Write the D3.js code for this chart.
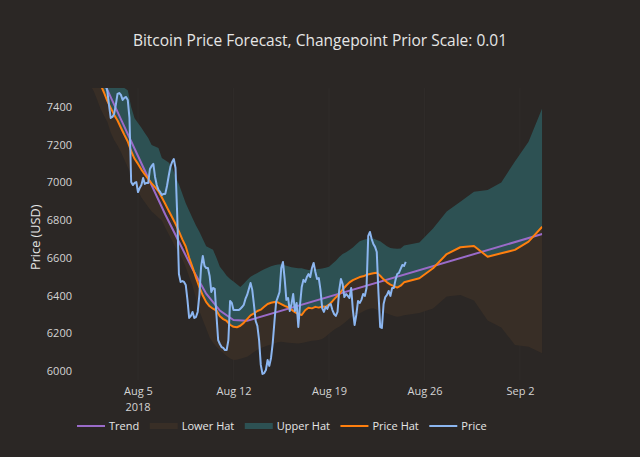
<!DOCTYPE html>
<html><head><meta charset="utf-8">
<script src="https://cdn.jsdelivr.net/npm/d3@7"></script>
<style>html,body{margin:0;padding:0;background:#2b2725;} svg{display:block;}</style>
</head><body>
<svg id="c" width="640" height="457"></svg>
<script>
// ---------------- DATA ----------------
const chartTitle = "Bitcoin Price Forecast, Changepoint Prior Scale: 0.01";
const yAxisTitle = "Price (USD)";
const yTicks = [6000, 6200, 6400, 6600, 6800, 7000, 7200, 7400];
const xTickDates = ["2018-08-05T00:00:00Z", "2018-08-12T00:00:00Z", "2018-08-19T00:00:00Z", "2018-08-26T00:00:00Z", "2018-09-02T00:00:00Z"];
const xTickLabels = ["Aug 5", "Aug 12", "Aug 19", "Aug 26", "Sep 2"];
const xTickYear = "2018";
const legendNames = ["Trend", "Lower Hat", "Upper Hat", "Price Hat", "Price"];
const xDomain = ["2018-07-31T18:00:00Z", "2018-09-03T15:00:00Z"];
const yDomain = [5950, 7500];

// observed price, sampled every 3 hours
const priceStart = "2018-07-31T18:00:00Z";
const priceStepHours = 3;
const price = [7700,7690,7680,7665,7650,7630,7620,7610,7600,7585,7570,7590,7580,7560,7540,7520,
7485,7411,7342,7347,7363,7411,7469,7474,7464,7437,7448,7453,7437,7342,7002,6986,6997,7002,
6949,6970,6986,7023,6992,6997,6997,7071,7087,7098,7029,6986,6960,6949,6933,6939,6939,6981,
7034,7082,7108,7124,7076,6827,6514,6472,6477,6472,6456,6377,6281,6292,6313,6281,6286,6313,
6403,6552,6610,6557,6546,6546,6504,6419,6440,6435,6297,6164,6143,6127,6122,6111,6111,6164,
6371,6361,6323,6323,6323,6323,6329,6339,6350,6382,6403,6435,6467,6430,6350,6265,6239,6164,
6032,5984,5989,6005,6058,6027,6069,6148,6260,6366,6392,6419,6546,6578,6488,6377,6387,6318,
6355,6408,6318,6361,6233,6350,6445,6483,6472,6498,6514,6498,6546,6573,6525,6488,6493,6430,
6334,6313,6339,6329,6350,6355,6323,6302,6292,6313,6430,6488,6461,6392,6408,6398,6387,6440,
6323,6244,6297,6371,6361,6377,6408,6398,6440,6716,6737,6700,6673,6658,6631,6414,6233,6228,
6355,6392,6403,6424,6398,6440,6440,6483,6514,6520,6541,6562,6557,6578];

// fitted history, sampled every 6 hours
const histStart = "2018-07-31T18:00:00Z";
const histStepHours = 6;
const priceHatHist = [7640,7625,7610,7595,7580,7560,7520,7478,7432,7395,7358,7328,7290,7252,7217,7165,
7125,7098,7068,7042,7018,6995,6975,6953,6920,6885,6850,6815,6780,6740,6698,6660,6600,6550,
6495,6445,6400,6365,6343,6330,6320,6290,6275,6265,6245,6234,6232,6240,6255,6275,6295,6305,
6318,6325,6340,6355,6362,6366,6364,6355,6345,6338,6325,6312,6302,6297,6322,6335,6332,6340,
6336,6342,6340,6352,6370,6390,6408,6432,6452,6470,6482,6490,6498,6502,6510,6514,6518,6521,
6505,6486,6470,6458,6450,6442,6452,6470];
const upperHatHist = [7900,7880,7860,7840,7820,7800,7760,7720,7680,7640,7600,7560,7530,7500,7488,7400,
7340,7315,7290,7262,7235,7198,7190,7183,7130,7118,7105,7080,7030,6990,6940,6890,6850,6810,
6772,6738,6700,6662,6652,6643,6600,6553,6530,6505,6488,6474,6460,6445,6462,6482,6500,6510,
6520,6530,6540,6548,6555,6560,6565,6566,6560,6555,6550,6548,6545,6545,6540,6536,6537,6540,
6541,6543,6548,6552,6568,6585,6605,6620,6630,6641,6655,6672,6688,6695,6700,6705,6702,6695,
6688,6675,6662,6652,6650,6648,6650,6665];
const lowerHatHist = [7600,7570,7540,7515,7485,7440,7390,7355,7322,7265,7225,7195,7161,7120,7080,7042,
6995,6955,6920,6895,6870,6845,6830,6812,6798,6760,6725,6690,6655,6625,6592,6550,6500,6450,
6385,6318,6270,6225,6178,6150,6128,6111,6095,6080,6066,6058,6060,6065,6070,6075,6088,6100,
6112,6120,6128,6135,6140,6146,6152,6155,6152,6150,6148,6147,6146,6148,6152,6156,6160,6162,
6164,6170,6182,6198,6212,6225,6235,6248,6262,6278,6290,6300,6306,6315,6325,6330,6332,6325,
6318,6310,6305,6298,6292,6288,6290,6296];

// daily forecast
const forecastDates = ["2018-08-25T15:00:00Z","2018-08-26T15:00:00Z","2018-08-27T15:00:00Z","2018-08-28T15:00:00Z",
"2018-08-29T15:00:00Z","2018-08-30T15:00:00Z","2018-08-31T15:00:00Z","2018-09-01T15:00:00Z","2018-09-02T15:00:00Z","2018-09-03T15:00:00Z"];
const priceHatForecast = [6492,6545,6620,6656,6663,6606,6624,6642,6686,6765];
const upperHatForecast = [6681,6756,6845,6898,6951,6960,7000,7111,7216,7393];
const lowerHatForecast = [6308,6331,6395,6403,6374,6268,6231,6138,6129,6094];

// trend
const trendDates = ["2018-07-31T18:00:00Z","2018-08-01T00:00:00Z","2018-08-02T00:00:00Z","2018-08-03T00:00:00Z",
"2018-08-04T00:00:00Z","2018-08-05T00:00:00Z","2018-08-06T00:00:00Z","2018-08-07T00:00:00Z","2018-08-08T00:00:00Z",
"2018-08-09T00:00:00Z","2018-08-10T00:00:00Z","2018-08-11T00:00:00Z","2018-08-12T00:00:00Z","2018-08-13T00:00:00Z",
"2018-09-03T15:00:00Z"];
const trend = [7810,7770,7610,7452,7296,7140,6985,6830,6685,6540,6410,6320,6270,6266,6726];

// ---------------- STYLE ----------------
const W = 640, H = 457;
const plot = {left: 80, right: 542.2, top: 88.1, bottom: 380.4};
const colors = {
  bg: "#2b2725", text: "#e6e6e6", tick: "#d4d4d4", grid: "#302c2a",
  trend: "#9a6bc9", lower: "#382e26", upper: "#2d5153", hat: "#ff7f0e", price: "#8cb6f0"
};
const font = "'Open Sans', 'Noto Sans', sans-serif";

// ---------------- BUILD ----------------
const HOUR = 3600 * 1000;
const parse = s => new Date(s);
const seq = (start, step, arr) => arr.map((v, i) => ({t: new Date(parse(start).getTime() + i * step * HOUR), v}));

const priceSeries = seq(priceStart, priceStepHours, price);
const histT = priceHatHist.map((_, i) => new Date(parse(histStart).getTime() + i * histStepHours * HOUR));
const fcT = forecastDates.map(parse);
const bandT = histT.concat(fcT);
const hatAll = priceHatHist.concat(priceHatForecast);
const upAll = upperHatHist.concat(upperHatForecast);
const loAll = lowerHatHist.concat(lowerHatForecast);
const band = bandT.map((t, i) => ({t, hat: hatAll[i], up: upAll[i], lo: loAll[i]}));
const trendSeries = trendDates.map((d, i) => ({t: parse(d), v: trend[i]}));

const x = d3.scaleUtc().domain(xDomain.map(parse)).range([plot.left, plot.right]);
const y = d3.scaleLinear().domain(yDomain).range([plot.bottom, plot.top]);

const svg = d3.select("#c");
svg.append("rect").attr("width", W).attr("height", H).attr("fill", colors.bg);

svg.append("defs").append("clipPath").attr("id", "clip")
  .append("rect").attr("x", plot.left).attr("y", plot.top)
  .attr("width", plot.right - plot.left).attr("height", plot.bottom - plot.top);

// grid (vertical)
const xTicks = xTickDates.map(parse);
svg.append("g").selectAll("line").data(xTicks).join("line")
  .attr("x1", d => x(d)).attr("x2", d => x(d))
  .attr("y1", plot.top).attr("y2", plot.bottom)
  .attr("stroke", colors.grid).attr("stroke-width", 1);

const g = svg.append("g").attr("clip-path", "url(#clip)");

g.append("path").datum(band)
  .attr("d", d3.area().x(d => x(d.t)).y0(d => y(d.lo)).y1(d => y(d.hat)))
  .attr("fill", colors.lower);
g.append("path").datum(band)
  .attr("d", d3.area().x(d => x(d.t)).y0(d => y(d.hat)).y1(d => y(d.up)))
  .attr("fill", colors.upper);

const line = d3.line().x(d => x(d.t)).y(d => y(d.v));
g.append("path").datum(trendSeries).attr("d", line)
  .attr("fill", "none").attr("stroke", colors.trend).attr("stroke-width", 2);
g.append("path").datum(band.map(d => ({t: d.t, v: d.hat}))).attr("d", line)
  .attr("fill", "none").attr("stroke", colors.hat).attr("stroke-width", 2).attr("stroke-linejoin", "round");
g.append("path").datum(priceSeries).attr("d", line)
  .attr("fill", "none").attr("stroke", colors.price).attr("stroke-width", 2).attr("stroke-linejoin", "round");

// y axis
const yAxis = d3.axisLeft(y).tickValues(yTicks).tickSize(0).tickPadding(8).tickFormat(d3.format("d"));
const yg = svg.append("g").attr("transform", `translate(${plot.left},0)`).call(yAxis);
yg.select(".domain").remove();
yg.selectAll("text").attr("fill", colors.tick).style("font-family", font).style("font-size", "11px");

// x axis
const xAxis = d3.axisBottom(x).tickValues(xTicks).tickSize(0).tickPadding(7)
  .tickFormat((d, i) => xTickLabels[i]);
const xg = svg.append("g").attr("transform", `translate(0,${plot.bottom})`).call(xAxis);
xg.select(".domain").remove();
xg.selectAll("text").attr("fill", colors.tick).style("font-family", font).style("font-size", "11px");
svg.append("text").attr("x", x(xTicks[0])).attr("y", 411).attr("text-anchor", "middle")
  .attr("fill", colors.tick).style("font-family", font).style("font-size", "11px").text(xTickYear);

// titles
svg.append("text").attr("x", W / 2).attr("y", 46).attr("text-anchor", "middle")
  .attr("fill", colors.text).style("font-family", font).style("font-size", "15.5px").text(chartTitle);
svg.append("text").attr("transform", `translate(40,${(plot.top + plot.bottom) / 2 + 3}) rotate(-90)`)
  .attr("text-anchor", "middle").attr("fill", colors.text)
  .style("font-family", font).style("font-size", "12.7px").text(yAxisTitle);

// legend
const legendStyles = [
  {type: "line", color: colors.trend},
  {type: "rect", color: colors.lower},
  {type: "rect", color: colors.upper},
  {type: "line", color: colors.hat},
  {type: "line", color: colors.price}
];
const lg = svg.append("g");
let lx = 77; const ly = 426;
legendNames.forEach((name, i) => {
  const s = legendStyles[i];
  if (s.type === "line") {
    lg.append("line").attr("x1", lx).attr("x2", lx + 28).attr("y1", ly).attr("y2", ly)
      .attr("stroke", s.color).attr("stroke-width", 2);
  } else {
    lg.append("rect").attr("x", lx).attr("y", ly - 3).attr("width", 28).attr("height", 6).attr("fill", s.color);
  }
  const t = lg.append("text").attr("x", lx + 32).attr("y", ly + 4).attr("fill", colors.text)
    .style("font-family", font).style("font-size", "11px").text(name);
  lx = lx + 32 + t.node().getComputedTextLength() + 10.5;
});
</script>
</body></html>
